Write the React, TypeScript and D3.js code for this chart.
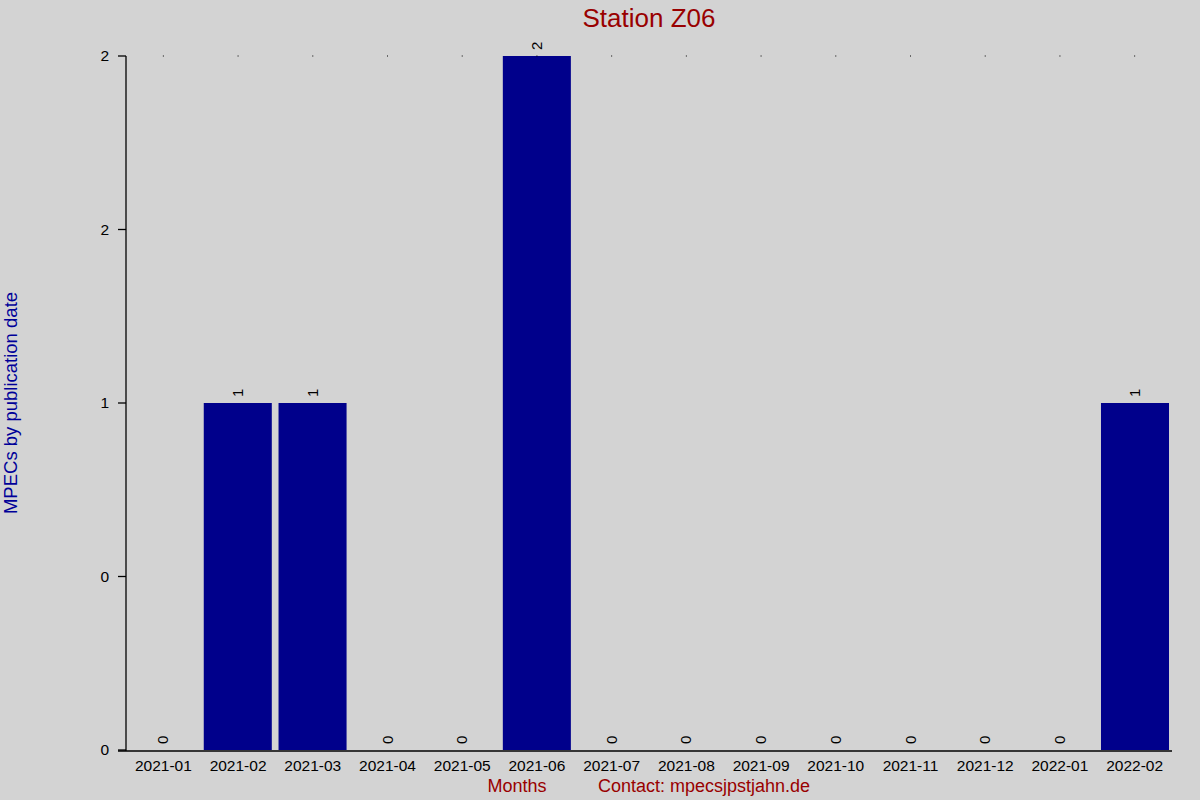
import React from "react"
import * as d3 from "d3"

const months = [
  "2021-01", "2021-02", "2021-03", "2021-04", "2021-05", "2021-06", "2021-07",
  "2021-08", "2021-09", "2021-10", "2021-11", "2021-12", "2022-01", "2022-02",
]
const counts = [0, 1, 1, 0, 0, 2, 0, 0, 0, 0, 0, 0, 0, 1]
const yTicks = [0, 0.5, 1, 1.5, 2]
const yTickLabels = ["0", "0", "1", "2", "2"]

const width = 1200
const height = 800
const left = 126
const right = 1172
const top = 56
const bottom = 750
const font = "Liberation Sans, Arial, sans-serif"

export default function App() {
  const x = d3.scaleBand().domain(months).range([left, right]).paddingInner(0.09).paddingOuter(0.04)
  const y = d3.scaleLinear().domain([0, 2]).range([bottom, top])
  const band = d3.scaleBand().domain(months).range([left, right])

  return (
    <svg width={width} height={height} style={{ position: "absolute", left: 0, top: 0 }} fontFamily={font}>
      <rect width={width} height={height} fill="#d3d3d3" />
      <text x={649} y={27} textAnchor="middle" fontSize={26} fill="#990000">Station Z06</text>
      {months.map((m, i) => (
        <rect key={m} x={x(m)} y={y(counts[i])} width={x.bandwidth()} height={bottom - y(counts[i])} fill="#00008b" />
      ))}
      {months.map((m) => (
        <rect key={"d" + m} x={band(m)! + band.bandwidth() / 2 - 0.5} y={top - 0.5} width={1} height={1} fill="#000" />
      ))}
      {months.map((m, i) => {
        const cx = band(m)! + band.bandwidth() / 2
        const cy = y(counts[i]) - 6
        return (
          <text key={"v" + m} transform={`translate(${cx + 5},${cy}) rotate(-90)`} fontSize={15} fill="#000">
            {counts[i]}
          </text>
        )
      })}
      <line x1={left} x2={left} y1={top} y2={bottom + 1} stroke="#000" strokeWidth={1.3} />
      <line x1={118} x2={right} y1={bottom + 1} y2={bottom + 1} stroke="#000" strokeWidth={1.3} />
      {yTicks.map((t, i) => (
        <g key={"t" + i}>
          <line x1={118} x2={left} y1={y(t)} y2={y(t)} stroke="#000" strokeWidth={1.3} />
          <text x={109} y={y(t) + 5} textAnchor="end" fontSize={15.5} fill="#000">{yTickLabels[i]}</text>
        </g>
      ))}
      {months.map((m) => (
        <text key={"x" + m} x={band(m)! + band.bandwidth() / 2} y={771} textAnchor="middle" fontSize={15.5} fill="#000">
          {m}
        </text>
      ))}
      <text transform={`translate(17,403) rotate(-90)`} textAnchor="middle" fontSize={18.5} fill="#000099">
        MPECs by publication date
      </text>
      <text x={517} y={792} textAnchor="middle" fontSize={18} fill="#990000">Months</text>
      <text x={598} y={792} fontSize={18} fill="#990000" textLength={212} lengthAdjust="spacingAndGlyphs">
        Contact: mpecsjpstjahn.de
      </text>
    </svg>
  )
}
